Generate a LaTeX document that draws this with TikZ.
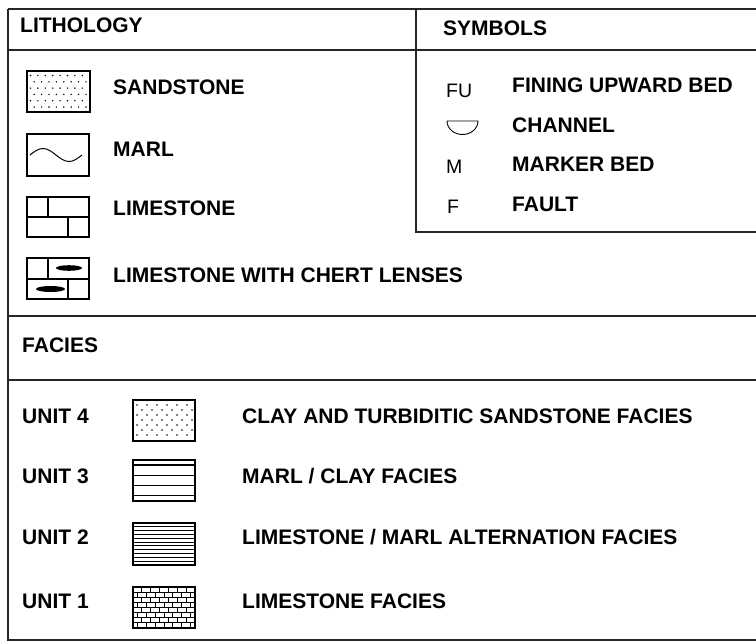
\documentclass[tikz,border=0pt]{standalone}
\usepackage{fontspec}
\setmainfont{Liberation Sans}
\begin{document}
\begin{tikzpicture}[x=1pt,y=-1pt,
  frame/.style={line width=1.4pt, draw=black!85},
  sym/.style={line width=1.1pt},
  lbl/.style={font=\bfseries\fontsize{21}{25}\selectfont, anchor=base west, inner sep=0pt},
  reg/.style={font=\fontsize{19.5}{23}\selectfont, anchor=base west, inner sep=0pt}]
\useasboundingbox (0,0) rectangle (756,641);
% frame lines
\draw[frame] (8,9) -- (756,9);
\draw[frame] (8,9) -- (8,641);
\draw[frame] (8,50) -- (756,50);
\draw[frame] (416,9) -- (416,232) -- (756,232);
\draw[frame] (8,316) -- (756,316);
\draw[frame] (8,380) -- (756,380);
\draw[frame] (8,640) -- (756,640);
% headers
\node[lbl] (lith) at (20,32) {LITHOLOGY};
\node[lbl] (symb) at (443,35) {SYMBOLS};
\node[lbl] (fac) at (22,352) {FACIES};
% sandstone
\draw[sym] (27,71) rectangle (90,112);
\foreach \r in {0,...,5}{
  \foreach \c in {0,...,7}{
    \pgfmathsetmacro\dx{30.5+\c*7.4+mod(\r,2)*3.7}
    \pgfmathsetmacro\dy{75.5+\r*6.3}
    \fill (\dx,\dy) circle (0.8pt);
  }
}
\node[lbl] (sand) at (113,94) {SANDSTONE};
% marl
\draw[sym] (27,134) rectangle (89,176);
\draw[line width=1pt] (30,155) sin (43,148.5) cos (56,155) sin (69,161.5) cos (82,155);
\node[lbl] (marl) at (113,156) {MARL};
% limestone
\draw[sym] (27,197) rectangle (89,237);
\draw[sym] (27,217) -- (89,217) (48,197) -- (48,217) (68,217) -- (68,237);
\node[lbl] (lime) at (113,215) {LIMESTONE};
% limestone with chert
\draw[sym] (27,258) rectangle (89,299);
\draw[sym] (27,279) -- (89,279) (48,258) -- (48,279) (68,279) -- (68,299);
\fill (69,268) ellipse [x radius=13pt, y radius=2.8pt];
\fill (50.5,289) ellipse [x radius=14.5pt, y radius=3pt];
\node[lbl] (chert) at (113,282) {LIMESTONE WITH CHERT LENSES};
% symbols
\node[reg] (fu) at (446,97) {FU};
\node[lbl] (fub) at (512,92) {FINING UPWARD BED};
\draw[line width=0.9pt] (447,121) -- (478,121) arc[start angle=360, end angle=180, x radius=15.5pt, y radius=13.5pt];
\node[lbl] (chan) at (512,132) {CHANNEL};
\node[reg] (m) at (446,173) {M};
\node[lbl] (mb) at (512,171) {MARKER BED};
\node[reg] (f) at (447,213) {F};
\node[lbl] (fault) at (512,211) {FAULT};
% units
\node[lbl] (u4) at (22,423) {UNIT 4};
\node[lbl] (u3) at (22,483) {UNIT 3};
\node[lbl] (u2) at (22,544) {UNIT 2};
\node[lbl] (u1) at (22,608) {UNIT 1};
\node[lbl] (d4) at (242,423) {CLAY AND TURBIDITIC SANDSTONE FACIES};
\node[lbl] (d3) at (242,483) {MARL / CLAY FACIES};
\node[lbl] (d2) at (242,544) {LIMESTONE / MARL ALTERNATION FACIES};
\node[lbl] (d1) at (242,608) {LIMESTONE FACIES};
% unit 4 dots
\draw[sym] (133,400) rectangle (195,441);
\foreach \r in {0,...,6}{
  \foreach \c in {0,...,5}{
    \pgfmathsetmacro\dx{137+\c*10+mod(\r,2)*5}
    \pgfmathsetmacro\dy{405+\r*5}
    \fill (\dx,\dy) circle (0.85pt);
  }
}
% unit 3 lines
\draw[sym] (133,460) rectangle (195,501);
\foreach \yy in {465,475.5,485.5,495.5}{ \draw[line width=1.2pt] (133,\yy) -- (195,\yy); }
% unit 2 lines
\draw[line width=1.6pt] (133,523) rectangle (195,565);
\foreach \k in {1,...,10}{ \draw[line width=1.1pt] (133,{523+\k*3.82}) -- (195,{523+\k*3.82}); }
% unit 1 bricks
\draw[sym] (133,587) rectangle (195,628);
\foreach \k in {1,...,7}{ \draw[line width=1pt] (133,{587+\k*5.125}) -- (195,{587+\k*5.125}); }
\foreach \r in {0,...,7}{
  \foreach \j in {0,...,7}{
    \pgfmathsetmacro\bx{133+4.43*mod(\r,2)+\j*8.86}
    \pgfmathsetmacro\ya{587+\r*5.125}
    \pgfmathsetmacro\yb{587+(\r+1)*5.125}
    \ifdim\bx pt>133.5pt \ifdim\bx pt<194.5pt
      \draw[line width=1pt] (\bx,\ya) -- (\bx,\yb);
    \fi\fi
  }
}
\end{tikzpicture}
\end{document}
